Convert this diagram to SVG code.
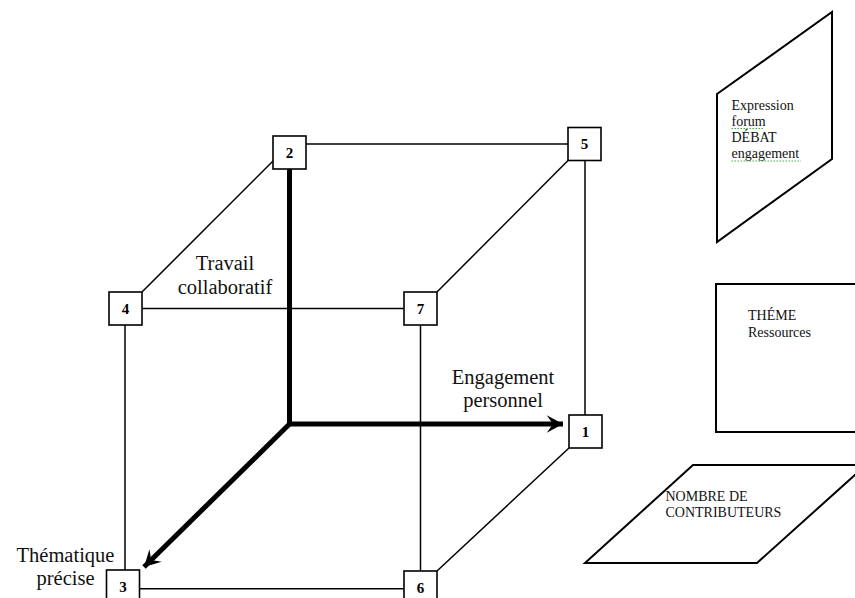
<svg xmlns="http://www.w3.org/2000/svg" width="855" height="598" viewBox="0 0 855 598">
<style>
.box{fill:#fff;stroke:#000;stroke-width:1.6}
.num{font-family:"Liberation Serif",serif;font-weight:bold;font-size:15px;text-anchor:middle;fill:#000}
.thin{stroke:#000;stroke-width:1.5;fill:none}
.thick{stroke:#000;stroke-width:5;fill:none;stroke-linejoin:miter}
.lbl{font-family:"Liberation Serif",serif;font-size:20.5px;text-anchor:middle;fill:#111}
.side{font-family:"Liberation Serif",serif;font-size:14px;fill:#111}
.panel{fill:#fff;stroke:#000;stroke-width:2}
.spell{stroke:#4a4;stroke-width:1.2;stroke-dasharray:1.5 1.5;fill:none}
</style>
<defs>
<marker id="arr" markerUnits="userSpaceOnUse" markerWidth="20" markerHeight="20" viewBox="-14 -8 16 16" refX="0" refY="0" orient="auto">
<path d="M0,0 L-13,-7 L-8,0 L-13,7 Z" fill="#000"/>
</marker>
</defs>
<rect width="855" height="598" fill="#fff"/>
<g id="connectors">
<line class="thin" x1="306" y1="144" x2="568" y2="144"/>
<line class="thin" x1="273" y1="161" x2="142" y2="292"/>
<line class="thin" x1="142" y1="308.5" x2="404" y2="308.5"/>
<line class="thin" x1="568" y1="160.5" x2="437" y2="292"/>
<line class="thin" x1="585" y1="160.5" x2="585" y2="415"/>
<line class="thin" x1="420.5" y1="325" x2="420.5" y2="571"/>
<line class="thin" x1="125" y1="325" x2="125" y2="570"/>
<line class="thin" x1="139.5" y1="588.7" x2="404" y2="588.7"/>
<line class="thin" x1="569" y1="448" x2="437" y2="571"/>
<path class="thick" d="M289.5,169 V424 H563" marker-end="url(#arr)"/>
<path class="thick" d="M289.5,424 L144,567" marker-end="url(#arr)"/>
</g>
<g id="node-2"><rect class="box" x="273" y="136" width="33" height="33"/><text class="num" x="289.5" y="157.5">2</text></g>
<g id="node-5"><rect class="box" x="568" y="127.5" width="33" height="33"/><text class="num" x="584.5" y="149">5</text></g>
<g id="node-4"><rect class="box" x="109" y="292" width="33" height="33"/><text class="num" x="125.5" y="313.5">4</text></g>
<g id="node-7"><rect class="box" x="404" y="292" width="33" height="33"/><text class="num" x="420.5" y="313.5">7</text></g>
<g id="node-1"><rect class="box" x="569" y="415" width="33" height="33"/><text class="num" x="585.5" y="436.5">1</text></g>
<g id="node-6"><rect class="box" x="404" y="571" width="33" height="33"/><text class="num" x="420.5" y="593">6</text></g>
<g id="node-3"><rect class="box" x="106.5" y="570" width="33" height="33"/><text class="num" x="123" y="592">3</text></g>
<g id="labels">
<text class="lbl" x="225" y="270">Travail</text>
<text class="lbl" x="225" y="293.5">collaboratif</text>
<text class="lbl" x="503" y="384">Engagement</text>
<text class="lbl" x="503" y="407">personnel</text>
<text class="lbl" x="65.5" y="561.5">Thématique</text>
<text class="lbl" x="65.5" y="584.5">précise</text>
</g>
<g id="panel-expression">
<polygon class="panel" points="717,94 832,12 832,159 717,242"/>
<text class="side" x="731.5" y="110">Expression</text>
<text class="side" x="731.5" y="125.5">forum</text>
<text class="side" x="731.5" y="142">DÉBAT</text>
<text class="side" x="731.5" y="157.5">engagement</text>
<path class="spell" d="M731.5,128.5 H764"/>
<path class="spell" d="M731.5,161 H801"/>
</g>
<g id="panel-theme">
<rect class="panel" x="716" y="284" width="150" height="148"/>
<text class="side" x="748" y="320">THÉME</text>
<text class="side" x="748" y="336.5">Ressources</text>
</g>
<g id="panel-nombre">
<polygon class="panel" points="693,465 866,465 757,563 585,563"/>
<text class="side" x="665.5" y="501">NOMBRE DE</text>
<text class="side" x="665.5" y="516.5">CONTRIBUTEURS</text>
</g>
</svg>
